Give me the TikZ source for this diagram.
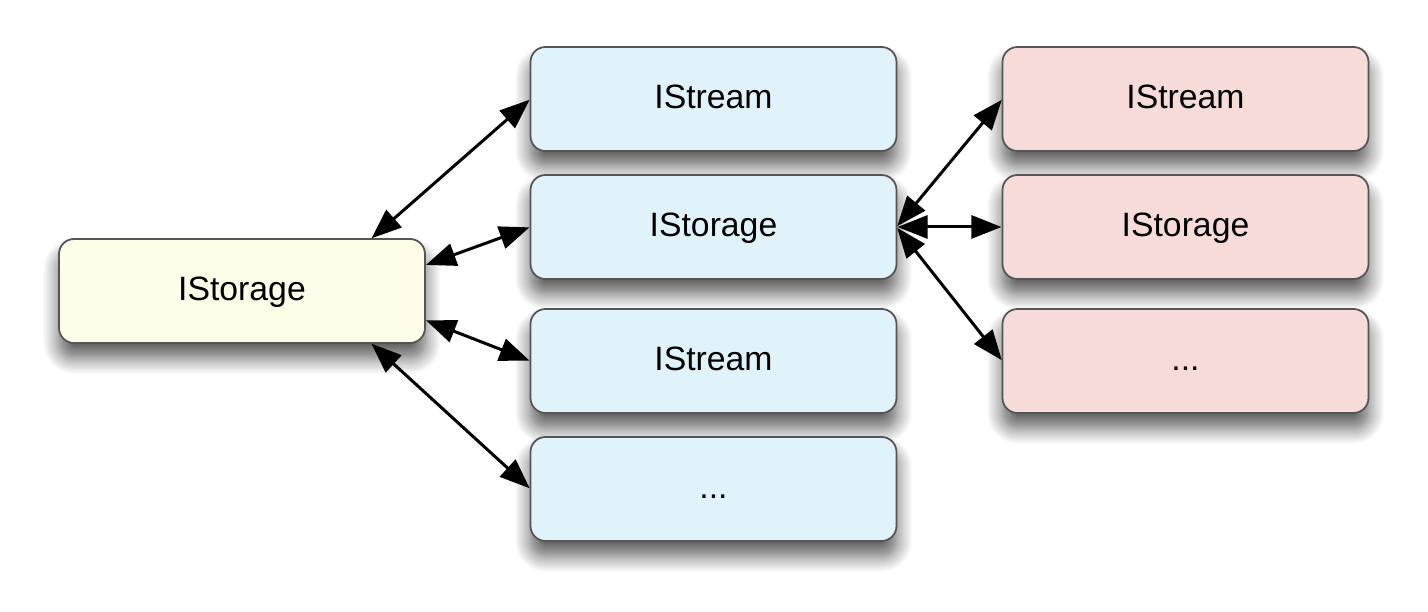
\documentclass[tikz,border=0pt]{standalone}
\usepackage{fontspec}
\setmainfont{Liberation Sans}
\usetikzlibrary{arrows.meta,shadows.blur}
\definecolor{rootfill}{RGB}{253,252,231}
\definecolor{midfill}{RGB}{225,243,250}
\definecolor{leaffill}{RGB}{246,219,217}
\definecolor{boxline}{RGB}{85,85,85}
\tikzset{
	box/.style={draw=boxline, line width=0.5pt, rounded corners=1.5mm,
		minimum width=3.66cm, minimum height=1.04cm, inner sep=0pt, outer sep=0pt,
		text height=7pt, text depth=1.4pt,
		font=\fontsize{9.6}{11}\selectfont,
		blur shadow={shadow xshift=0mm, shadow yshift=-1.5mm, shadow blur radius=1.6mm, shadow blur steps=14, shadow opacity=65}},
	link/.style={{Triangle[length=3mm,width=2.3mm]}-{Triangle[length=3mm,width=2.3mm]}, line width=0.85pt, shorten <=0.3pt, shorten >=0.3pt}
}
\begin{document}
\begin{tikzpicture}
				% column positions
				\def\xa{2.42}
				\def\xb{7.135}
				\def\xc{11.855}
				\useasboundingbox (0,0) rectangle (14.28,6.12);
				
				% the root storage
				\node[box, fill=rootfill] (root) at (\xa,3.21) {IStorage};
				
				% children of the root
				\node[box, fill=midfill] (midstream) at (\xb,5.13) {IStream};
				\node[box, fill=midfill] (midstorage) at (\xb,3.85) {IStorage};
				\node[box, fill=midfill] (midstreamb) at (\xb,2.51) {IStream};
				\node[box, fill=midfill] (middots) at (\xb,1.23) {...};
				
				% children of the inner storage
				\node[box, fill=leaffill] (leafstream) at (\xc,5.13) {IStream};
				\node[box, fill=leaffill] (leafstorage) at (\xc,3.85) {IStorage};
				\node[box, fill=leaffill] (leafdots) at (\xc,2.51) {...};
				
				% links from the root
				\draw[link] (root.22) -- (midstream.west);
				\draw[link] (root.8) -- (midstorage.west);
				\draw[link] (root.-9) -- (midstreamb.west);
				\draw[link] (root.-22) -- (middots.west);
				
				% links from the inner storage
				\draw[link] (midstorage.east) -- (leafstream.west);
				\draw[link] (midstorage.east) -- (leafstorage.west);
				\draw[link] (midstorage.east) -- (leafdots.west);
				
				\end{tikzpicture}
\end{document}
